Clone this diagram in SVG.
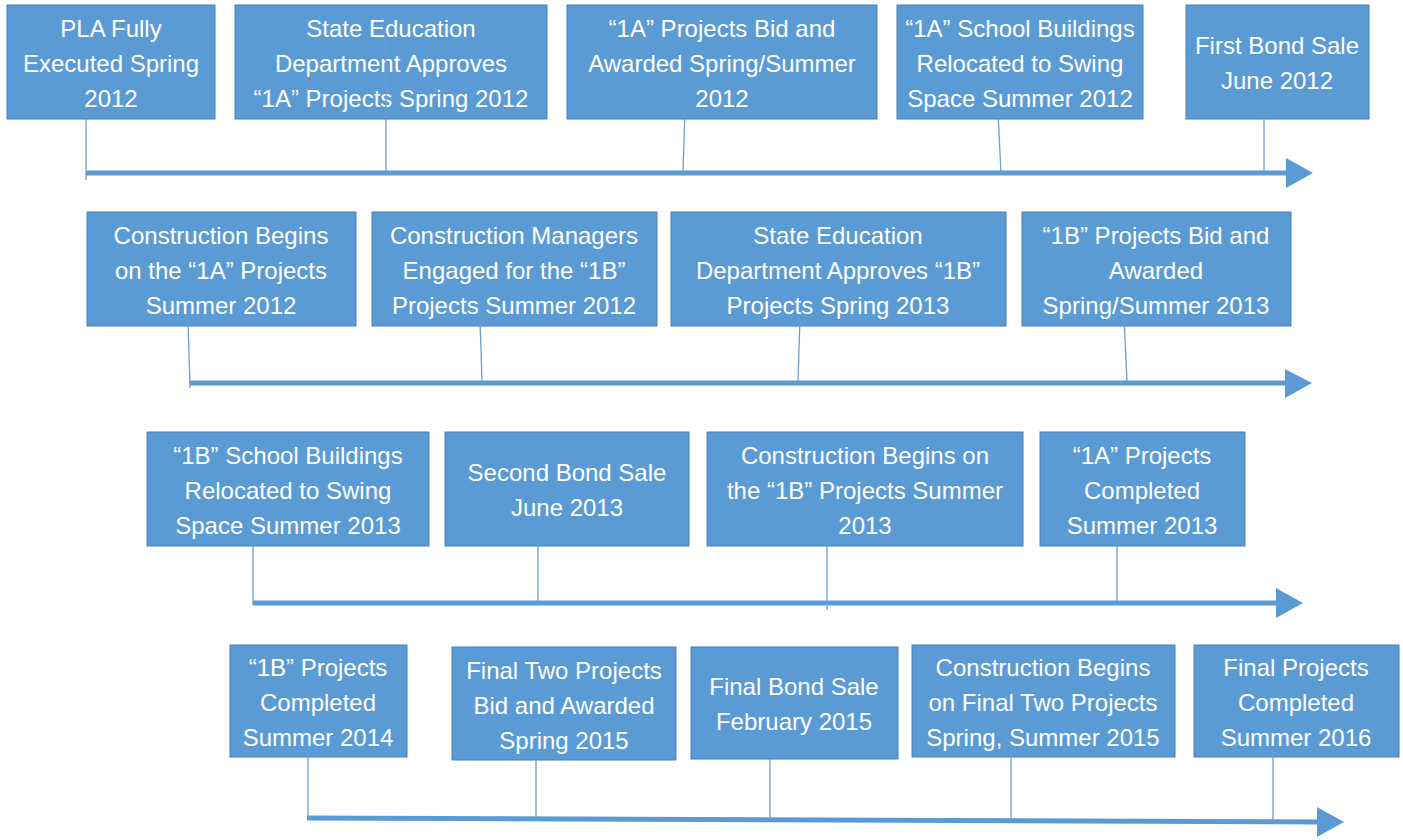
<svg xmlns="http://www.w3.org/2000/svg" width="1403" height="840" viewBox="0 0 1403 840">
<style>
.box{fill:#5B9BD5;stroke:#4A80B8;stroke-width:1}
.t{font-family:"Liberation Sans",Arial,sans-serif;font-size:24px;fill:#FFFFFF;text-anchor:middle}
.shaft{stroke:#5B9BD5;stroke-width:5;fill:none}
.head{fill:#5B9BD5}
.stem{stroke:#6C9ECF;stroke-width:1.3;fill:none}
</style>
<rect width="1403" height="840" fill="#FFFFFF"/>
<g id="n1"><rect class="box" x="7" y="5" width="208" height="114"/><text class="t" x="111"><tspan x="111" y="37">PLA Fully</tspan><tspan x="111" y="72">Executed Spring</tspan><tspan x="111" y="107">2012</tspan></text></g>
<g id="n2"><rect class="box" x="235" y="5" width="312" height="114"/><text class="t"><tspan x="391" y="37">State Education</tspan><tspan x="391" y="72">Department Approves</tspan><tspan x="391" y="107">“1A” Projects Spring 2012</tspan></text></g>
<g id="n3"><rect class="box" x="567" y="5" width="310" height="114"/><text class="t"><tspan x="722" y="37">“1A” Projects Bid and</tspan><tspan x="722" y="72">Awarded Spring/Summer</tspan><tspan x="722" y="107">2012</tspan></text></g>
<g id="n4"><rect class="box" x="897" y="5" width="246" height="114"/><text class="t"><tspan x="1020" y="37">“1A” School Buildings</tspan><tspan x="1020" y="72">Relocated to Swing</tspan><tspan x="1020" y="107">Space Summer 2012</tspan></text></g>
<g id="n5"><rect class="box" x="1186" y="5" width="183" height="114"/><text class="t"><tspan x="1277" y="54">First Bond Sale</tspan><tspan x="1277" y="89">June 2012</tspan></text></g>

<g id="n6"><rect class="box" x="87" y="212" width="269" height="114"/><text class="t"><tspan x="221" y="244">Construction Begins</tspan><tspan x="221" y="279">on the “1A” Projects</tspan><tspan x="221" y="314">Summer 2012</tspan></text></g>
<g id="n7"><rect class="box" x="372" y="212" width="285" height="114"/><text class="t"><tspan x="514" y="244">Construction Managers</tspan><tspan x="514" y="279">Engaged for the “1B”</tspan><tspan x="514" y="314">Projects Summer 2012</tspan></text></g>
<g id="n8"><rect class="box" x="671" y="212" width="335" height="114"/><text class="t"><tspan x="838" y="244">State Education</tspan><tspan x="838" y="279">Department Approves “1B”</tspan><tspan x="838" y="314">Projects Spring 2013</tspan></text></g>
<g id="n9"><rect class="box" x="1022" y="212" width="269" height="114"/><text class="t"><tspan x="1156" y="244">“1B” Projects Bid and</tspan><tspan x="1156" y="279">Awarded</tspan><tspan x="1156" y="314">Spring/Summer 2013</tspan></text></g>

<g id="n10"><rect class="box" x="147" y="432" width="282" height="114"/><text class="t"><tspan x="288" y="464">“1B” School Buildings</tspan><tspan x="288" y="499">Relocated to Swing</tspan><tspan x="288" y="534">Space Summer 2013</tspan></text></g>
<g id="n11"><rect class="box" x="445" y="432" width="244" height="114"/><text class="t"><tspan x="567" y="481">Second Bond Sale</tspan><tspan x="567" y="516">June 2013</tspan></text></g>
<g id="n12"><rect class="box" x="707" y="432" width="316" height="114"/><text class="t"><tspan x="865" y="464">Construction Begins on</tspan><tspan x="865" y="499">the “1B” Projects Summer</tspan><tspan x="865" y="534">2013</tspan></text></g>
<g id="n13"><rect class="box" x="1040" y="432" width="205" height="114"/><text class="t"><tspan x="1142" y="464">“1A” Projects</tspan><tspan x="1142" y="499">Completed</tspan><tspan x="1142" y="534">Summer 2013</tspan></text></g>

<g id="n14"><rect class="box" x="230" y="645" width="177" height="112"/><text class="t"><tspan x="318" y="676">“1B” Projects</tspan><tspan x="318" y="711">Completed</tspan><tspan x="318" y="746">Summer 2014</tspan></text></g>
<g id="n15"><rect class="box" x="452" y="647" width="224" height="113"/><text class="t"><tspan x="564" y="679">Final Two Projects</tspan><tspan x="564" y="714">Bid and Awarded</tspan><tspan x="564" y="749">Spring 2015</tspan></text></g>
<g id="n16"><rect class="box" x="691" y="647" width="207" height="112"/><text class="t"><tspan x="794" y="695">Final Bond Sale</tspan><tspan x="794" y="730">February 2015</tspan></text></g>
<g id="n17"><rect class="box" x="912" y="645" width="263" height="112"/><text class="t"><tspan x="1043" y="676">Construction Begins</tspan><tspan x="1043" y="711">on Final Two Projects</tspan><tspan x="1043" y="746">Spring, Summer 2015</tspan></text></g>
<g id="n18"><rect class="box" x="1194" y="645" width="205" height="112"/><text class="t"><tspan x="1296" y="676">Final Projects</tspan><tspan x="1296" y="711">Completed</tspan><tspan x="1296" y="746">Summer 2016</tspan></text></g>

<g id="connectors">
<line class="shaft" x1="86" y1="173" x2="1290" y2="173"/>
<polygon class="head" points="1286,158 1313,173 1286,188"/>
<line class="shaft" x1="190" y1="383" x2="1290" y2="383"/>
<polygon class="head" points="1285,369 1312,383 1285,398"/>
<line class="shaft" x1="253" y1="603" x2="1280" y2="603"/>
<polygon class="head" points="1276,588 1303,603 1276,618"/>
<line class="shaft" x1="307" y1="818" x2="1322" y2="822"/>
<polygon class="head" points="1317,807 1344,822 1317,837"/>

<line class="stem" x1="86" y1="110" x2="86" y2="180"/>
<line class="stem" x1="386" y1="33" x2="386" y2="171"/>
<line class="stem" x1="685" y1="112" x2="683" y2="171"/>
<line class="stem" x1="998" y1="112" x2="1001" y2="174"/>
<line class="stem" x1="1264" y1="112" x2="1264" y2="171"/>

<line class="stem" x1="188" y1="320" x2="190" y2="388"/>
<line class="stem" x1="480" y1="320" x2="482" y2="381"/>
<line class="stem" x1="800" y1="318" x2="798" y2="381"/>
<line class="stem" x1="1124" y1="318" x2="1127" y2="381"/>

<line class="stem" x1="253" y1="540" x2="253" y2="605"/>
<line class="stem" x1="538" y1="540" x2="538" y2="601"/>
<line class="stem" x1="827" y1="540" x2="827" y2="610"/>
<line class="stem" x1="1117" y1="540" x2="1117" y2="601"/>

<line class="stem" x1="308" y1="752" x2="308" y2="818"/>
<line class="stem" x1="536" y1="760" x2="536" y2="818"/>
<line class="stem" x1="770" y1="759" x2="770" y2="819"/>
<line class="stem" x1="1011" y1="750" x2="1011" y2="820"/>
<line class="stem" x1="1273" y1="750" x2="1273" y2="821"/>
</g>
</svg>
